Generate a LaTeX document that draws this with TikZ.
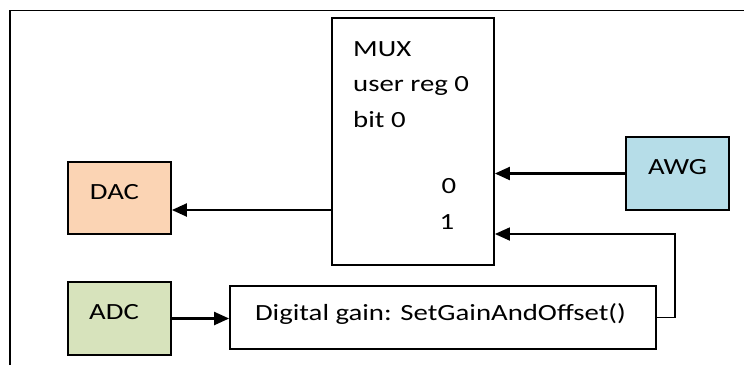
\documentclass[tikz,border=0pt]{standalone}
\usepackage{fontspec}
\setmainfont{Carlito}[FakeStretch=1.24]
\usetikzlibrary{arrows.meta,calc}
\definecolor{dacfill}{HTML}{FBD4B4}
\definecolor{adcfill}{HTML}{D7E3BC}
\definecolor{awgfill}{HTML}{B6DDE8}
\begin{document}
\begin{tikzpicture}[x=1pt,y=-1pt,
  box/.style={draw, line width=1.8pt, rectangle, inner sep=0pt},
  txt/.style={inner sep=0pt, font=\fontsize{23.2}{35.5}\selectfont},
  arr/.style={line width=2.2pt, -{Triangle[length=15pt,width=13pt]}}]
\useasboundingbox (0,0) rectangle (744,365);
\draw[line width=1.8pt] (10,365) -- (10,10.5) -- (744,10.5);
% boxes
\node[box, minimum width=162pt, minimum height=247pt] (mux) at (413,141.5) {};
\node[box, fill=dacfill, minimum width=103pt, minimum height=72pt] (dac) at (119.5,198) {};
\node[box, fill=adcfill, minimum width=103pt, minimum height=73pt] (adc) at (119.5,318.5) {};
\node[box, fill=awgfill, minimum width=103pt, minimum height=73pt] (awg) at (677.5,173.5) {};
\node[box, minimum width=426pt, minimum height=63pt] (gain) at (443,317.5) {};
% texts
\node[txt, anchor=base west] (t1) at (353,56) {MUX};
\node[txt, anchor=base west] (t2) at (353,91.5) {user reg 0};
\node[txt, anchor=base west] (t3) at (353,127) {bit 0};
\node[txt, anchor=base] (t4) at (449,193) {0};
\node[txt, anchor=base] (t5) at (447,229.3) {1};
\node[txt] (tdac) at ($(dac.center)+(-5,-5.5)$) {DAC};
\node[txt] (tadc) at ($(adc.center)+(-5.5,-6.5)$) {ADC};
\node[txt] (tawg) at ($(awg.center)+(0,-6.5)$) {AWG};
\node[txt] (tgain) at ($(gain.center)+(-2.5,-3)$) {Digital gain: SetGainAndOffset()};
% connectors
\coordinate (fb) at (675,234);
\coordinate (dacin) at (332,210);
\draw[arr] (awg.west) -- (awg.west -| mux.east);
\draw[arr] (dacin) -- (dacin -| dac.east);
\draw[arr] (adc.east) -- (adc.east -| gain.west);
\draw[arr, line width=1.8pt] (gain.east) -| (fb) -- (fb -| mux.east);
\end{tikzpicture}
\end{document}
